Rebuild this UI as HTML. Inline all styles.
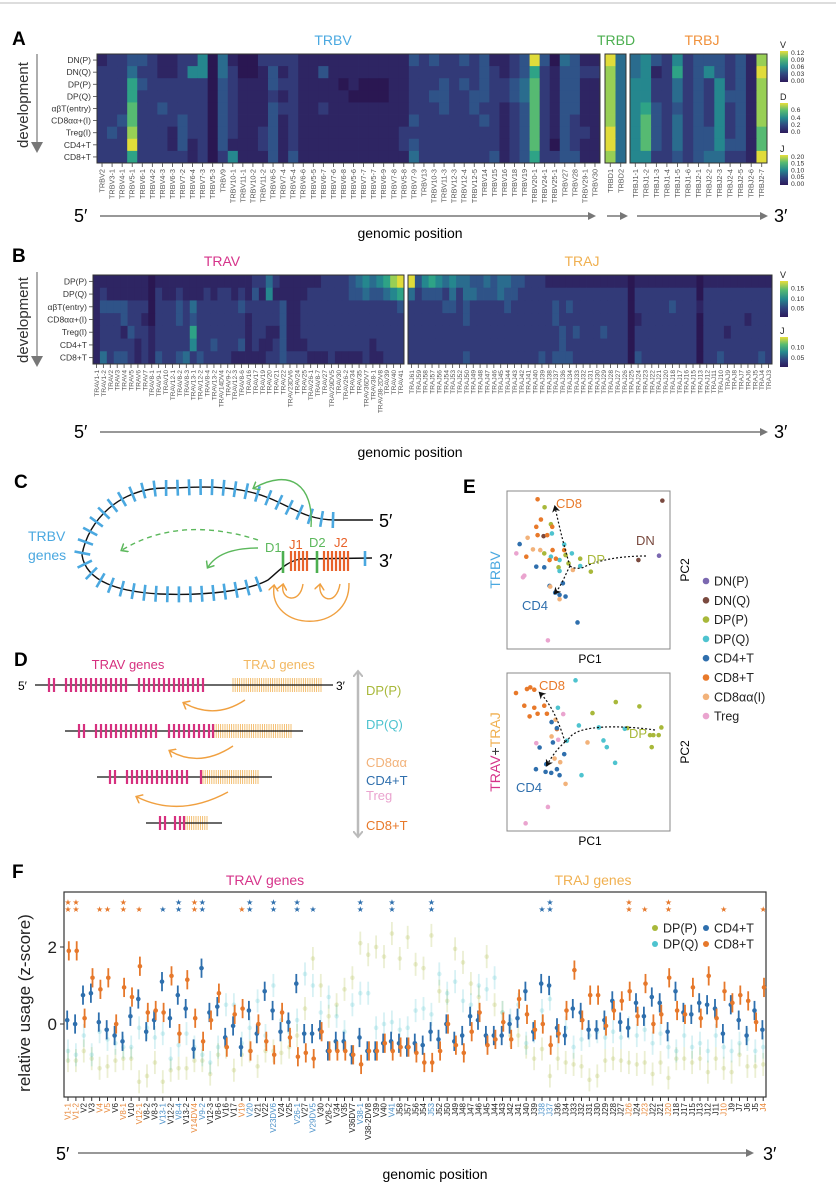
<!DOCTYPE html>
<html><head><meta charset="utf-8"><style>
html,body{margin:0;padding:0;background:#fff;}
svg{display:block;font-family:"Liberation Sans",sans-serif;}
</style></head><body>
<svg id="fig" xmlns="http://www.w3.org/2000/svg" width="836" height="1200" viewBox="0 0 836 1200">
<defs>
<linearGradient id="vir" x1="0" y1="1" x2="0" y2="0">
<stop offset="0" stop-color="#2d1b5c"/><stop offset="0.25" stop-color="#31457f"/><stop offset="0.5" stop-color="#25898e"/><stop offset="0.75" stop-color="#56ba72"/><stop offset="1" stop-color="#e8de3a"/>
</linearGradient>
<marker id="arrG" markerWidth="8" markerHeight="8" refX="6" refY="4" orient="auto" markerUnits="userSpaceOnUse"><path d="M0,0 L8,4 L0,8 z" fill="#777"/></marker>
<marker id="arrGreen" markerWidth="10" markerHeight="10" refX="5" refY="5" orient="auto" markerUnits="userSpaceOnUse"><path d="M0,0 L6,5 L0,10" fill="none" stroke="#5cb85c" stroke-width="1.5"/></marker>
<marker id="arrOr" markerWidth="10" markerHeight="10" refX="5" refY="5" orient="auto" markerUnits="userSpaceOnUse"><path d="M0,0 L6,5 L0,10" fill="none" stroke="#f0a040" stroke-width="1.5"/></marker>
<marker id="arrK" markerWidth="8" markerHeight="8" refX="5" refY="4" orient="auto" markerUnits="userSpaceOnUse"><path d="M0,0 L7,4 L0,8 L2,4 z" fill="#111"/></marker>
<marker id="arrGray" markerWidth="10" markerHeight="10" refX="5" refY="5" orient="auto-start-reverse" markerUnits="userSpaceOnUse"><path d="M0,0 L6,5 L0,10" fill="none" stroke="#bbb" stroke-width="2"/></marker>
</defs>
<line x1="0" y1="3" x2="836" y2="3" stroke="#bbb"/>

<text x="12" y="45" font-size="19" font-weight="bold">A</text>
<text x="333" y="45" font-size="14" fill="#4aa8e0" text-anchor="middle">TRBV</text>
<text x="616" y="45" font-size="14" fill="#4caf50" text-anchor="middle">TRBD</text>
<text x="702" y="45" font-size="14" fill="#f0903a" text-anchor="middle">TRBJ</text>
<text x="0" y="0" font-size="15" fill="#333" text-anchor="middle" transform="translate(28 105) rotate(-90)">development</text>
<line x1="37" y1="54" x2="37" y2="142" stroke="#777" stroke-width="1.2"/>
<path d="M31,142 L43,142 L37,153 z" fill="#777"/>
<text x="74" y="222" font-size="18">5′</text>
<text x="774" y="222" font-size="18">3′</text>
<line x1="100" y1="216" x2="594" y2="216" stroke="#777" stroke-width="1.5" marker-end="url(#arrG)"/>
<line x1="607" y1="216" x2="626" y2="216" stroke="#777" stroke-width="1.5" marker-end="url(#arrG)"/>
<line x1="637" y1="216" x2="766" y2="216" stroke="#777" stroke-width="1.5" marker-end="url(#arrG)"/>
<text x="410" y="238" font-size="14" text-anchor="middle">genomic position</text>

<text x="12" y="262" font-size="19" font-weight="bold">B</text>
<text x="222" y="266" font-size="14" fill="#d6338a" text-anchor="middle">TRAV</text>
<text x="582" y="266" font-size="14" fill="#f0b050" text-anchor="middle">TRAJ</text>
<text x="0" y="0" font-size="15" fill="#333" text-anchor="middle" transform="translate(28 320) rotate(-90)">development</text>
<line x1="37" y1="272" x2="37" y2="356" stroke="#777" stroke-width="1.2"/>
<path d="M31,356 L43,356 L37,367 z" fill="#777"/>
<text x="74" y="438" font-size="18">5′</text>
<text x="774" y="438" font-size="18">3′</text>
<line x1="100" y1="432" x2="766" y2="432" stroke="#777" stroke-width="1.5" marker-end="url(#arrG)"/>
<text x="410" y="457" font-size="14" text-anchor="middle">genomic position</text>

<text x="14" y="488" font-size="19" font-weight="bold">C</text>
<path id="cpath" d="M 373 520 L 335 520 C 300 520 285 500 250 492 C 215 484 190 488 165 488 C 120 488 88 520 82 555 C 86 582 120 592 160 594 C 210 596 250 590 268 580 C 280 570 286 562 300 559 L 372 558" fill="none" stroke="#111" stroke-width="1.4"/>
<g id="cticks"></g>
<text x="28" y="541" font-size="14" fill="#4aa8e0">TRBV</text>
<text x="28" y="560" font-size="14" fill="#4aa8e0">genes</text>
<text x="265" y="552" font-size="13" fill="#5cb85c">D1</text>
<text x="289" y="549" font-size="13" fill="#e8622a">J1</text>
<text x="309" y="547" font-size="13" fill="#5cb85c">D2</text>
<text x="334" y="547" font-size="13" fill="#e8622a">J2</text>
<text x="379" y="527" font-size="18">5′</text>
<text x="379" y="567" font-size="18">3′</text>
<path d="M311 527 C 314 485 290 468 254 488" fill="none" stroke="#5cb85c" stroke-width="1.4" marker-end="url(#arrGreen)"/>
<path d="M258 540 Q 180 515 122 550" fill="none" stroke="#5cb85c" stroke-width="1.4" stroke-dasharray="5,4" marker-end="url(#arrGreen)"/>
<path d="M258 548 Q 220 548 208 567" fill="none" stroke="#5cb85c" stroke-width="1.4" marker-end="url(#arrGreen)"/>
<path d="M303 584 C 300 605 280 600 283 585" fill="none" stroke="#f0a040" stroke-width="1.4" marker-end="url(#arrOr)"/>
<path d="M340 584 C 336 607 318 600 320 585" fill="none" stroke="#f0a040" stroke-width="1.4" marker-end="url(#arrOr)"/>
<path d="M349 583 C 350 635 268 632 274 586" fill="none" stroke="#f0a040" stroke-width="1.4" marker-end="url(#arrOr)"/>

<text x="14" y="666" font-size="19" font-weight="bold">D</text>
<text x="128" y="669" font-size="13" fill="#d6307f" text-anchor="middle">TRAV genes</text>
<text x="279" y="669" font-size="13" fill="#f2b862" text-anchor="middle">TRAJ genes</text>
<text x="18" y="690" font-size="12">5′</text>
<text x="336" y="690" font-size="12">3′</text>
<g id="dgenes"></g>
<path d="M245 700 Q 215 720 184 703" fill="none" stroke="#f0a040" stroke-width="1.4" marker-end="url(#arrOr)"/>
<path d="M233 746 Q 200 768 170 751" fill="none" stroke="#f0a040" stroke-width="1.4" marker-end="url(#arrOr)"/>
<path d="M228 792 Q 180 818 137 797" fill="none" stroke="#f0a040" stroke-width="1.4" marker-end="url(#arrOr)"/>
<line x1="358" y1="672" x2="358" y2="836" stroke="#bbb" stroke-width="2.5" marker-start="url(#arrGray)" marker-end="url(#arrGray)"/>
<text x="366" y="695" font-size="13" fill="#a8b83a">DP(P)</text>
<text x="366" y="729" font-size="13" fill="#4ec3cf">DP(Q)</text>
<text x="366" y="767" font-size="13" fill="#f2b27a">CD8αα</text>
<text x="366" y="785" font-size="13" fill="#2f6fad">CD4+T</text>
<text x="366" y="800" font-size="13" fill="#eaa4cf">Treg</text>
<text x="366" y="830" font-size="13" fill="#e8792a">CD8+T</text>

<text x="463" y="493" font-size="19" font-weight="bold">E</text>
<rect x="507" y="491" width="163" height="158" fill="none" stroke="#888" stroke-width="1"/>
<rect x="507" y="673" width="163" height="158" fill="none" stroke="#888" stroke-width="1"/>
<text x="590" y="663" font-size="12" text-anchor="middle">PC1</text>
<text x="590" y="845" font-size="12" text-anchor="middle">PC1</text>
<text x="0" y="0" font-size="12" text-anchor="middle" transform="translate(689 570) rotate(-90)">PC2</text>
<text x="0" y="0" font-size="12" text-anchor="middle" transform="translate(689 752) rotate(-90)">PC2</text>
<text x="0" y="0" font-size="14" fill="#4aa8e0" text-anchor="middle" transform="translate(500 570) rotate(-90)">TRBV</text>
<text x="0" y="0" font-size="14" text-anchor="middle" transform="translate(500 752) rotate(-90)"><tspan fill="#d6338a">TRAV</tspan><tspan fill="#333">+</tspan><tspan fill="#f0b050">TRAJ</tspan></text>
<g id="pca"></g>
<text x="556" y="508" font-size="13" fill="#e8792a">CD8</text>
<text x="636" y="545" font-size="13" fill="#7a4a3f">DN</text>
<text x="587" y="564" font-size="13" fill="#a8b83a">DP</text>
<text x="522" y="610" font-size="13" fill="#2f6fad">CD4</text>
<text x="539" y="690" font-size="13" fill="#e8792a">CD8</text>
<text x="629" y="738" font-size="13" fill="#a8b83a">DP</text>
<text x="516" y="792" font-size="13" fill="#2f6fad">CD4</text>
<g id="elegend"></g>

<text x="12" y="878" font-size="19" font-weight="bold">F</text>
<text x="265" y="885" font-size="14" fill="#d6338a" text-anchor="middle">TRAV genes</text>
<text x="593" y="885" font-size="14" fill="#f0b050" text-anchor="middle">TRAJ genes</text>
<text x="0" y="0" font-size="17" fill="#222" text-anchor="middle" transform="translate(30 1003) rotate(-90)">relative usage (z-score)</text>
<rect x="64" y="892" width="702" height="205" fill="none" stroke="#333" stroke-width="1.2"/>
<g id="fchart"></g>
<text x="56" y="1160" font-size="18">5′</text>
<text x="763" y="1160" font-size="18">3′</text>
<line x1="78" y1="1153" x2="752" y2="1153" stroke="#777" stroke-width="1.5" marker-end="url(#arrG)"/>
<text x="435" y="1179" font-size="14" text-anchor="middle">genomic position</text>
</svg>
<script>
const VIR = ['#2a1752','#2e2563','#323a78','#2f5388','#2a6c8e','#25878e','#2ea386','#56ba72','#98cf55','#e0dc3a'];
const aRows = ["DN(P)","DN(Q)","DP(P)","DP(Q)","αβT(entry)","CD8αα+(I)","Treg(I)","CD4+T","CD8+T"];
const bRows = ["DP(P)","DP(Q)","αβT(entry)","CD8αα+(I)","Treg(I)","CD4+T","CD8+T"];
const trbvLabels = ["TRBV2","TRBV3-1","TRBV4-1","TRBV5-1","TRBV6-1","TRBV4-2","TRBV4-3","TRBV6-3","TRBV7-2","TRBV6-4","TRBV7-3","TRBV5-3","TRBV9","TRBV10-1","TRBV11-1","TRBV10-2","TRBV11-2","TRBV6-5","TRBV7-4","TRBV5-4","TRBV6-6","TRBV5-5","TRBV6-7","TRBV7-6","TRBV6-8","TRBV5-6","TRBV7-7","TRBV5-7","TRBV6-9","TRBV7-8","TRBV5-8","TRBV7-9","TRBV13","TRBV10-3","TRBV11-3","TRBV12-3","TRBV12-4","TRBV12-5","TRBV14","TRBV15","TRBV16","TRBV18","TRBV19","TRBV20-1","TRBV24-1","TRBV25-1","TRBV27","TRBV28","TRBV29-1","TRBV30"];
const trbvValues = [
 "1223321122"+"5041002222"+"1111111111"+"1323223231"+"1239304311",
 "2224221125"+"5042001312"+"1131111111"+"1222222232"+"1236213322",
 "2226322222"+"2032111322"+"1111010001"+"1222323232"+"2347213311",
 "2226222222"+"2032111212"+"1111100001"+"1223322332"+"2347213311",
 "2227223222"+"2032111322"+"1121111111"+"1222322322"+"1237213311",
 "2237222232"+"2032111312"+"1111111111"+"1322222232"+"1237213211",
 "2328222132"+"2032112312"+"1111111111"+"2222222222"+"1237213221",
 "2229222131"+"2031112312"+"1111111111"+"2322222222"+"1237203211",
 "2226222221"+"2025111313"+"1111111111"+"1422222223"+"1236223311"];
const trbdLabels = ["TRBD1","TRBD2"];
const trbdValues = ["94","84","84","84","84","84","94","94","84"];
const trbjLabels = ["TRBJ1-1","TRBJ1-2","TRBJ1-3","TRBJ1-4","TRBJ1-5","TRBJ1-6","TRBJ2-1","TRBJ2-2","TRBJ2-3","TRBJ2-4","TRBJ2-5","TRBJ2-6","TRBJ2-7"];
const trbjValues = ["4532523332318","4512623532319","5522423252318","5522423253318","5632323252318","5732423252318","5732423352317","5732423353317","5522323442219"];
const travLabels = ["TRAV1-1","TRAV1-2","TRAV2","TRAV3","TRAV4","TRAV5","TRAV6","TRAV7","TRAV8-1","TRAV9-1","TRAV10","TRAV12-1","TRAV8-2","TRAV8-3","TRAV13-1","TRAV12-2","TRAV8-4","TRAV13-2","TRAV14DV4","TRAV9-2","TRAV12-3","TRAV8-6","TRAV16","TRAV17","TRAV19","TRAV20","TRAV21","TRAV22","TRAV23DV6","TRAV24","TRAV25","TRAV26-1","TRAV8-7","TRAV27","TRAV29DV5","TRAV30","TRAV26-2","TRAV34","TRAV35","TRAV36DV7","TRAV38-1","TRAV38-2DV8","TRAV39","TRAV40","TRAV41"];
const travValues = [
 "1111111101"+"1111111111"+"1112242111"+"1112222345"+"45689",
 "1211111102"+"1121112122"+"1213151111"+"1222222334"+"33456",
 "1333322202"+"2232422222"+"2322222311"+"2222222222"+"22223",
 "1222322102"+"2232322222"+"2212222311"+"2222222222"+"22222",
 "1222132212"+"2222622222"+"2212211311"+"2222222222"+"22222",
 "1222221212"+"2222522322"+"2312112311"+"1222222222"+"12222",
 "1423321213"+"2234232222"+"1111122322"+"2111211112"+"11222"];
const trajLabels = ["TRAJ61","TRAJ59","TRAJ58","TRAJ57","TRAJ56","TRAJ54","TRAJ53","TRAJ52","TRAJ50","TRAJ49","TRAJ48","TRAJ47","TRAJ46","TRAJ45","TRAJ44","TRAJ43","TRAJ42","TRAJ41","TRAJ40","TRAJ39","TRAJ38","TRAJ37","TRAJ36","TRAJ34","TRAJ33","TRAJ32","TRAJ31","TRAJ30","TRAJ29","TRAJ28","TRAJ27","TRAJ26","TRAJ25","TRAJ24","TRAJ23","TRAJ22","TRAJ21","TRAJ20","TRAJ18","TRAJ17","TRAJ16","TRAJ15","TRAJ13","TRAJ12","TRAJ11","TRAJ10","TRAJ9","TRAJ8","TRAJ7","TRAJ6","TRAJ5","TRAJ4","TRAJ3"];
const trajValues = [
 "9356545443"+"3434433222"+"1111111111"+"1101111111"+"1101111111"+"111",
 "4233324244"+"3334332222"+"2222222222"+"2202222222"+"2202222222"+"222",
 "2222233232"+"2222322222"+"2323222222"+"2202222232"+"2212222222"+"222",
 "2222222232"+"2222222222"+"2322222222"+"2201222222"+"2202222221"+"222",
 "2222222222"+"2222222222"+"2232322232"+"2202222222"+"2202221222"+"222",
 "2222222222"+"2222222222"+"2232222222"+"2202222222"+"2202222222"+"222",
 "2222222232"+"2222222223"+"2333222222"+"2203222222"+"2202232222"+"232"];

const pcaGroups = ["DN(P)","DN(Q)","DP(P)","DP(Q)","CD4+T","CD8+T","CD8αα(I)","Treg"];
const pcaColors = ["#7b68b0","#7a4a3f","#a8b83a","#4ec3cf","#2f6fad","#e8792a","#f2b27a","#eaa4cf"];
const pca1PC1 = [717,727,655,370, 373,392,372,436,445,480,512,415, 395,432,455,392,418,480,418, 298,348,372,428,388,405,418,436,472, 352,362,348,396,352,381,318,397,432,407,388, 322,338,360,458,418,390, 288,312,308,383];
const pca1PC2 = [287,121,300,228, 141,192,280,285,310,296,335,322, 220,253,280,290,300,318,333, 252,320,322,370,378,398,405,410,488, 117,178,200,200,225,225,290,270,270,296,300, 233,268,270,330,418,380, 280,347,352,542];
const pca1Grp = [0,1,1,1, 2,2,2,2,2,2,2,2, 3,3,3,3,3,3,3, 4,4,4,4,4,4,4,4,4, 5,5,5,5,5,5,5,5,5,5,5, 6,6,6,6,6,6, 7,7,7,7];
const pca2PC1 = [287,320,330,342,312,342,372,352,380,328,410, 587,658,517,724,716,695,690,700,622, 466,413,476,536,614,550,560,585,484,440, 394,410,398,358,432,378,347,376,393,410,418, 406,394,502,403,420,436, 429,348,383,316,414];
const pca2PC2 = [700,688,683,690,738,744,738,762,762,770,808, 727,740,760,803,826,862,826,826,805, 662,744,797,803,807,842,862,909,946,843, 787,805,848,863,883,913,928,936,939,928,946, 780,830,848,896,907,972, 763,850,1041,1090,840];
const pca2Grp = [5,5,5,5,5,5,5,5,5,5,5, 2,2,2,2,2,2,2,2,2, 3,3,3,3,3,3,3,3,3,3, 4,4,4,4,4,4,4,4,4,4,4, 6,6,6,6,6,6, 7,7,7,7,7];

const fLabels = ["V1-1","V1-2","V2","V3","V4","V5","V6","V8-1","V10","V12-1","V8-2","V8-3","V13-1","V12-2","V8-4","V13-2","V14DV4","V9-2","V12-3","V8-6","V16","V17","V19","V20","V21","V22","V23DV6","V24","V25","V26-1","V27","V29DV5","V30","V26-2","V34","V35","V36DV7","V38-1","V38-2DV8","V39","V40","V41","J58","J57","J56","J54","J53","J52","J50","J49","J48","J47","J46","J45","J44","J43","J42","J41","J40","J39","J38","J37","J36","J34","J33","J32","J31","J30","J29","J28","J27","J26","J24","J23","J22","J21","J20","J18","J17","J15","J13","J12","J11","J10","J9","J7","J6","J5","J4"];
const fCD4 = [0.1,0.0,0.75,0.8,0.05,-0.15,-0.3,-0.45,0.2,0.65,-0.2,0.1,1.1,0.15,0.75,0.4,-0.65,1.45,0.3,0.45,-0.35,-0.05,-0.6,0.35,-0.25,0.85,0.35,-0.2,0.05,1.05,-0.25,-0.25,-0.15,-0.7,-0.45,-0.45,-0.8,-0.35,-0.7,-0.7,-0.5,-0.45,-0.5,-0.6,-0.5,-0.55,-0.2,-0.4,0.0,-0.45,-0.3,0.2,0.1,-0.3,-0.3,-0.3,0.0,0.15,0.85,-0.2,1.05,1.0,-0.1,-0.3,0.4,0.3,-0.15,-0.15,0.1,0.6,0.05,-0.1,0.55,0.2,0.7,0.55,-0.2,0.85,0.3,0.25,0.55,0.5,0.4,-0.25,0.5,0.1,-0.3,0.35,-0.15];
const fCD8 = [1.9,1.9,0.15,1.2,0.9,1.2,0.0,0.95,0.7,1.5,0.3,0.35,0.3,1.25,-0.25,1.15,0.15,-0.45,0.1,0.8,-0.6,0.25,0.4,-0.7,0.0,-0.45,-0.8,0.3,-0.35,-0.85,-0.75,-0.9,-0.2,-0.7,-0.7,-0.7,-0.8,-1.05,-0.7,-0.7,-0.5,-0.7,-0.6,-0.6,-0.75,-1.0,-1.0,-0.7,0.0,-0.55,-0.75,-0.2,0.3,-0.55,-0.4,0.05,-0.4,0.65,0.25,-0.15,0.0,-0.55,-0.25,0.35,1.4,0.1,0.75,0.75,-0.05,0.35,0.6,0.85,0.2,1.05,0.0,0.25,1.2,0.35,0.25,0.95,0.15,1.25,0.15,0.85,0.55,0.75,0.6,0.05,0.95];
const fDPP = [-0.95,-0.95,-0.7,-0.9,-1.15,-1.1,-0.95,-0.9,-0.9,-1.5,-1.35,-1.0,-1.5,-1.2,-1.15,-1.15,-0.95,-0.95,-1.3,-0.8,-0.6,-1.2,-0.8,-0.7,-1.1,-0.7,-0.7,-0.75,-0.6,-0.3,0.4,1.7,1.0,0.2,0.5,0.9,1.2,2.1,1.8,2.0,1.75,2.35,1.7,2.25,1.55,1.45,2.3,0.85,0.6,1.95,1.6,1.05,0.7,1.75,0.5,0.3,-0.3,-0.3,-0.6,-0.9,-0.65,-1.35,-0.9,-1.0,-1.05,-1.1,-1.45,-1.35,-0.95,-0.9,-0.95,-1.0,-1.05,-1.0,-1.3,-1.0,-1.4,-0.9,-0.9,-1.0,-0.9,-1.25,-0.9,-1.15,-1.25,-0.8,-1.1,-1.1,-1.05];
const fDPQ = [-0.7,-0.8,-0.3,-0.8,-0.2,-0.4,-0.5,-0.6,-0.6,-0.1,-0.1,-0.35,-0.25,-0.9,-0.55,-0.25,-0.6,-0.8,-1.0,-0.6,0.5,0.5,-0.5,-0.1,0.6,-0.3,1.0,0.1,-0.2,0.1,1.3,1.0,0.3,0.7,0.2,-0.2,0.5,0.8,0.8,-0.1,0.0,0.05,-0.15,-0.1,0.35,0.4,0.25,1.3,0.8,1.1,0.6,0.5,1.0,0.9,1.2,0.3,0.1,0.5,-0.5,-0.2,0.35,0.65,-0.3,-0.1,-0.6,-0.4,-0.3,-0.2,-0.35,-0.2,-0.35,-0.1,-0.3,-0.15,-0.5,-0.25,-0.6,-0.7,-0.3,-0.6,-0.5,-0.7,-0.3,-0.6,-0.7,-0.5,-0.4,-0.7,-0.6];
const fOrangeLabelIdx = [0,1,4,5,7,9,16,22,71,73,76,83,88];
const fBlueLabelIdx = [12,14,17,23,26,29,31,37,41,46,60,61];
const cd8Star2 = [0,1,7,16,71,76];
const cd8Star1 = [4,5,9,22,73,83,88];
const cd4Star2 = [14,17,23,26,29,37,41,46,61];
const cd4Star1 = [12,31,60];
const fYTicks = [0,2];

const NS = "http://www.w3.org/2000/svg";
const svg = document.getElementById('fig');
function mk(tag, attrs, parent){
  const e = document.createElementNS(NS, tag);
  for (const k in attrs) e.setAttribute(k, attrs[k]);
  (parent || svg).appendChild(e);
  return e;
}
function heat(rows, x0, y0, cw, ch, name){
  const g = mk('g', {});
  
  
  rows.forEach((r, ri) => {
    for (let ci = 0; ci < r.length; ci++){
      const v = +r[ci];
      const c = mk('rect', {x: x0 + ci*cw, y: y0 + ri*ch, width: cw + 0.4, height: ch + 0.4, fill: VIR[v]}, g);
      
      
    }
  });
  const w = rows[0].length * cw, h = rows.length * ch;
  const o = mk('rect', {x: x0, y: y0, width: w, height: h, fill: 'none', stroke: '#333', 'stroke-width': 1}, g);
  
  
  return g;
}
function colLabels(labels, x0, cw, y0, name, fs){
  labels.forEach((lab, i) => {
    const cx = x0 + (i + 0.5) * cw;
    const t = mk('line', {x1: cx, y1: y0, x2: cx, y2: y0 + 4, stroke: '#444', 'stroke-width': 0.8});
    
    
    const tx = mk('text', {x: cx + 2.5, y: y0 + 6, transform: `rotate(-90 ${cx + 2.5} ${y0 + 6})`, 'text-anchor': 'end', 'font-size': fs, fill: '#555'});
    tx.textContent = lab;
    
    
  });
}
function rowLabels(labels, x, y0, ch, name){
  labels.forEach((lab, i) => {
    const cy = y0 + (i + 0.5) * ch;
    const t = mk('text', {x: x - 6, y: cy + 3, 'text-anchor': 'end', 'font-size': 8.5, fill: '#333'});
    t.textContent = lab;
    
    
    const l = mk('line', {x1: x - 4, y1: cy, x2: x, y2: cy, stroke: '#444', 'stroke-width': 0.8});
    
    
  });
}
function colorbar(x, y, h, title, ticks, name){
  const r = mk('rect', {x: x, y: y, width: 8, height: h, fill: 'url(#vir)'});
  
  
  const t = mk('text', {x: x, y: y - 3, 'font-size': 9, fill: '#222'});
  t.textContent = title;
  
  
  ticks.forEach(tk => {
    const tt = mk('text', {x: x + 11, y: y + tk[1] * h + 2.5, 'font-size': 6.8, fill: '#333'});
    tt.textContent = tk[0];
    
    
  });
}

const aY0 = 54, aCH = 109 / 9;
heat(trbvValues, 97, aY0, 503 / 50, aCH, 'trbv-heatmap');
heat(trbdValues, 605, aY0, 10.5, aCH, 'trbd-heatmap');
heat(trbjValues, 630, aY0, 137 / 13, aCH, 'trbj-heatmap');
rowLabels(aRows, 97, aY0, aCH, 'a');
colLabels(trbvLabels, 97, 503 / 50, 163, 'trbv', 7.3);
colLabels(trbdLabels, 605, 10.5, 163, 'trbd', 7.3);
colLabels(trbjLabels, 630, 137 / 13, 163, 'trbj', 7.3);
colorbar(780, 51, 31, 'V', [['0.12',0.05],['0.09',0.27],['0.06',0.5],['0.03',0.72],['0.00',0.95]], 'a-v-colorbar');
colorbar(780, 103, 30, 'D', [['0.6',0.22],['0.4',0.48],['0.2',0.72],['0.0',0.95]], 'a-d-colorbar');
colorbar(780, 155, 30, 'J', [['0.20',0.05],['0.15',0.27],['0.10',0.5],['0.05',0.72],['0.00',0.95]], 'a-j-colorbar');

const bY0 = 275, bCH = 89 / 7;
heat(travValues, 93, bY0, 311 / 45, bCH, 'trav-heatmap');
heat(trajValues, 408, bY0, 364 / 53, bCH, 'traj-heatmap');
rowLabels(bRows, 93, bY0, bCH, 'b');
colLabels(travLabels, 93, 311 / 45, 364, 'trav', 6.6);
colLabels(trajLabels, 408, 364 / 53, 364, 'traj', 6.6);
colorbar(780, 281, 36, 'V', [['0.15',0.2],['0.10',0.48],['0.05',0.75]], 'b-v-colorbar');
colorbar(780, 337, 30, 'J', [['0.10',0.33],['0.05',0.68]], 'b-j-colorbar');

(function(){
  const p = document.getElementById('cpath');
  const g = document.getElementById('cticks');
  const L = p.getTotalLength();
  for (let s = 40; s < L; s += 11.5){
    const a = p.getPointAtLength(s), b = p.getPointAtLength(Math.min(L, s + 1));
    if (a.x > 336) continue;
    if (a.y > 548 && a.x > 262) continue;
    const dx = b.x - a.x, dy = b.y - a.y, n = Math.hypot(dx, dy) || 1;
    const nx = -dy / n * 8, ny = dx / n * 8;
    const t = mk('line', {x1: a.x - nx, y1: a.y - ny, x2: a.x + nx, y2: a.y + ny, stroke: '#4aa8e0', 'stroke-width': 2.6}, g);
    
    
  }
  const t3 = mk('line', {x1: 365, y1: 551, x2: 365, y2: 566, stroke: '#4aa8e0', 'stroke-width': 2.6}, g);
  
  
  const js = [291,295,299,303,307, 324,328,332,336,340,344,348];
  js.forEach(x => {
    const t = mk('line', {x1: x, y1: 551, x2: x, y2: 571, stroke: '#e8622a', 'stroke-width': 2.2}, g);
    
    
  });
  [283, 317].forEach(x => {
    const t = mk('line', {x1: x, y1: 551, x2: x, y2: 573, stroke: '#4caf50', 'stroke-width': 2.6}, g);
    
    
  });
})();

(function(){
  const g = document.getElementById('dgenes');
  const lines = [
    {y: 685, x1: 35, x2: 333, pink: [49,54, 66,71,76,81,86,91,96,101,106,111,116,121,126, 139,144,149,154,159,164,169,174,179, 183,188,193,198,203], o1: 233, o2: 321},
    {y: 731, x1: 65, x2: 303, pink: [79,84, 96,101,106,111,116,121,126,131,136,141,146,151,156, 169,174,179,184,189,194,199,204,209,213], o1: 214, o2: 293},
    {y: 777, x1: 97, x2: 272, pink: [110,115, 127,132,137,142,147,152,157,162,167,172,177,182,187, 201], o1: 203, o2: 259},
    {y: 823, x1: 146, x2: 222, pink: [160,165, 175,180,184], o1: 185, o2: 209}
  ];
  lines.forEach((ln, li) => {
    for (let x = ln.o1; x <= ln.o2; x += 2.2){
      const t = mk('line', {x1: x, y1: ln.y - 7, x2: x, y2: ln.y + 7, stroke: '#f2b862', 'stroke-width': 0.9}, g);
      
      
    }
    const l = mk('line', {x1: ln.x1, y1: ln.y, x2: ln.x2, y2: ln.y, stroke: '#111', 'stroke-width': 1.3}, g);
    
    
    ln.pink.forEach(x => {
      const t = mk('line', {x1: x, y1: ln.y - 7, x2: x, y2: ln.y + 7, stroke: '#d6307f', 'stroke-width': 2.2}, g);
      
      
    });
  });
})();

(function(){
  const g = document.getElementById('pca');
  const sx = v => 507 + (v - 260) / 490 * 163;
  const sy1 = v => 491 + (v - 92) / 476 * 158;
  const sy2 = v => 673 + (v - 640) / 473 * 158;
  pca1PC1.forEach((v, i) => {
    const c = mk('circle', {cx: sx(v), cy: sy1(pca1PC2[i]), r: 2.3, fill: pcaColors[pca1Grp[i]]}, g);
    
    
  });
  pca2PC1.forEach((v, i) => {
    const c = mk('circle', {cx: sx(v), cy: sy2(pca2PC2[i]), r: 2.3, fill: pcaColors[pca2Grp[i]]}, g);
    
    
  });
  const paths = [
    ['M 646 556 C 620 556 600 560 586 566 C 580 570 572 568 570 566', 'trbv-dn-to-dp-trajectory', false],
    ['M 570 566 C 565 550 560 530 555 507', 'trbv-dp-to-cd8-trajectory', true],
    ['M 570 566 C 565 575 562 585 555 593', 'trbv-dp-to-cd4-trajectory', true],
    ['M 655 730 C 620 725 580 725 570 737 C 568 740 566 741 565 742', 'tra-dp-trajectory', false],
    ['M 565 742 C 560 725 552 705 540 693', 'tra-dp-to-cd8-trajectory', true],
    ['M 565 742 C 558 748 552 756 547 765', 'tra-dp-to-cd4-trajectory', true]
  ];
  paths.forEach(p => {
    const a = {d: p[0], fill: 'none', stroke: '#111', 'stroke-width': 1.2, 'stroke-dasharray': '2,2'};
    if (p[2]) a['marker-end'] = 'url(#arrK)';
    const e = mk('path', a, g);
    
    
  });
  const lg = document.getElementById('elegend');
  pcaGroups.forEach((nm, i) => {
    const y = 581 + i * 19.3;
    const c = mk('circle', {cx: 706, cy: y, r: 3.3, fill: pcaColors[i]}, lg);
    
    
    const t = mk('text', {x: 714, y: y + 4.5, 'font-size': 12.5, fill: '#222'}, lg);
    t.textContent = nm;
    
    
  });
})();

(function(){
  const g = document.getElementById('fchart');
  const x = i => 68 + i * 7.9;
  const y = v => 1024 - v * 38.5;
  fYTicks.forEach(v => {
    const l = mk('line', {x1: 60, y1: y(v), x2: 64, y2: y(v), stroke: '#333'}, g);
    
    
    const t = mk('text', {x: 57, y: y(v) + 6, 'text-anchor': 'end', 'font-size': 17, fill: '#222'}, g);
    t.textContent = v;
    
    
  });
  function series(vals, color, op, err, dx, r, name){
    vals.forEach((v, i) => {
      const cx = x(i) + dx;
      const l = mk('line', {x1: cx, y1: y(v - err), x2: cx, y2: y(v + err), stroke: color, 'stroke-width': 1.8, opacity: op}, g);
      
      
      const c = mk('circle', {cx: cx, cy: y(v), r: r, fill: color, opacity: op}, g);
      
      
    });
  }
  series(fDPP, '#a8b83a', 0.22, 0.3, 0, 2.3, 'dpp');
  series(fDPQ, '#4ec3cf', 0.22, 0.3, 0, 2.3, 'dpq');
  series(fCD4, '#2e6fad', 1, 0.25, -0.8, 2.3, 'cd4');
  series(fCD8, '#e6782b', 1, 0.25, 0.8, 2.3, 'cd8');
  function stars(idx, n, color, name){
    idx.forEach(i => {
      for (let k = 0; k < n; k++){
        const t = mk('text', {x: x(i), y: 912 - k * 7, 'text-anchor': 'middle', 'font-size': 8, fill: color}, g);
        t.textContent = '★';
        
        
      }
    });
  }
  stars(cd8Star2, 2, '#e6782b', 'cd8-significance-star');
  stars(cd8Star1, 1, '#e6782b', 'cd8-significance-star');
  stars(cd4Star2, 2, '#2e6fad', 'cd4-significance-star');
  stars(cd4Star1, 1, '#2e6fad', 'cd4-significance-star');
  fLabels.forEach((lab, i) => {
    const cx = x(i);
    const l = mk('line', {x1: cx, y1: 1097, x2: cx, y2: 1101, stroke: '#333'}, g);
    
    
    let col = '#222';
    if (fOrangeLabelIdx.includes(i)) col = '#e8883a';
    if (fBlueLabelIdx.includes(i)) col = '#4a90c8';
    const t = mk('text', {x: cx + 2.7, y: 1103, transform: `rotate(-90 ${cx + 2.7} 1103)`, 'text-anchor': 'end', 'font-size': 8, fill: col}, g);
    t.textContent = lab;
    
    
  });
  const leg = [['DP(P)', '#a8b83a', 655, 928], ['CD4+T', '#2e6fad', 706, 928], ['DP(Q)', '#4ec3cf', 655, 944], ['CD8+T', '#e6782b', 706, 944]];
  leg.forEach(e => {
    const c = mk('circle', {cx: e[2], cy: e[3], r: 3, fill: e[1]}, g);
    
    
    const t = mk('text', {x: e[2] + 8, y: e[3] + 4.5, 'font-size': 12.5, fill: '#222'}, g);
    t.textContent = e[0];
    
    
  });
})();
</script>
</body></html>
